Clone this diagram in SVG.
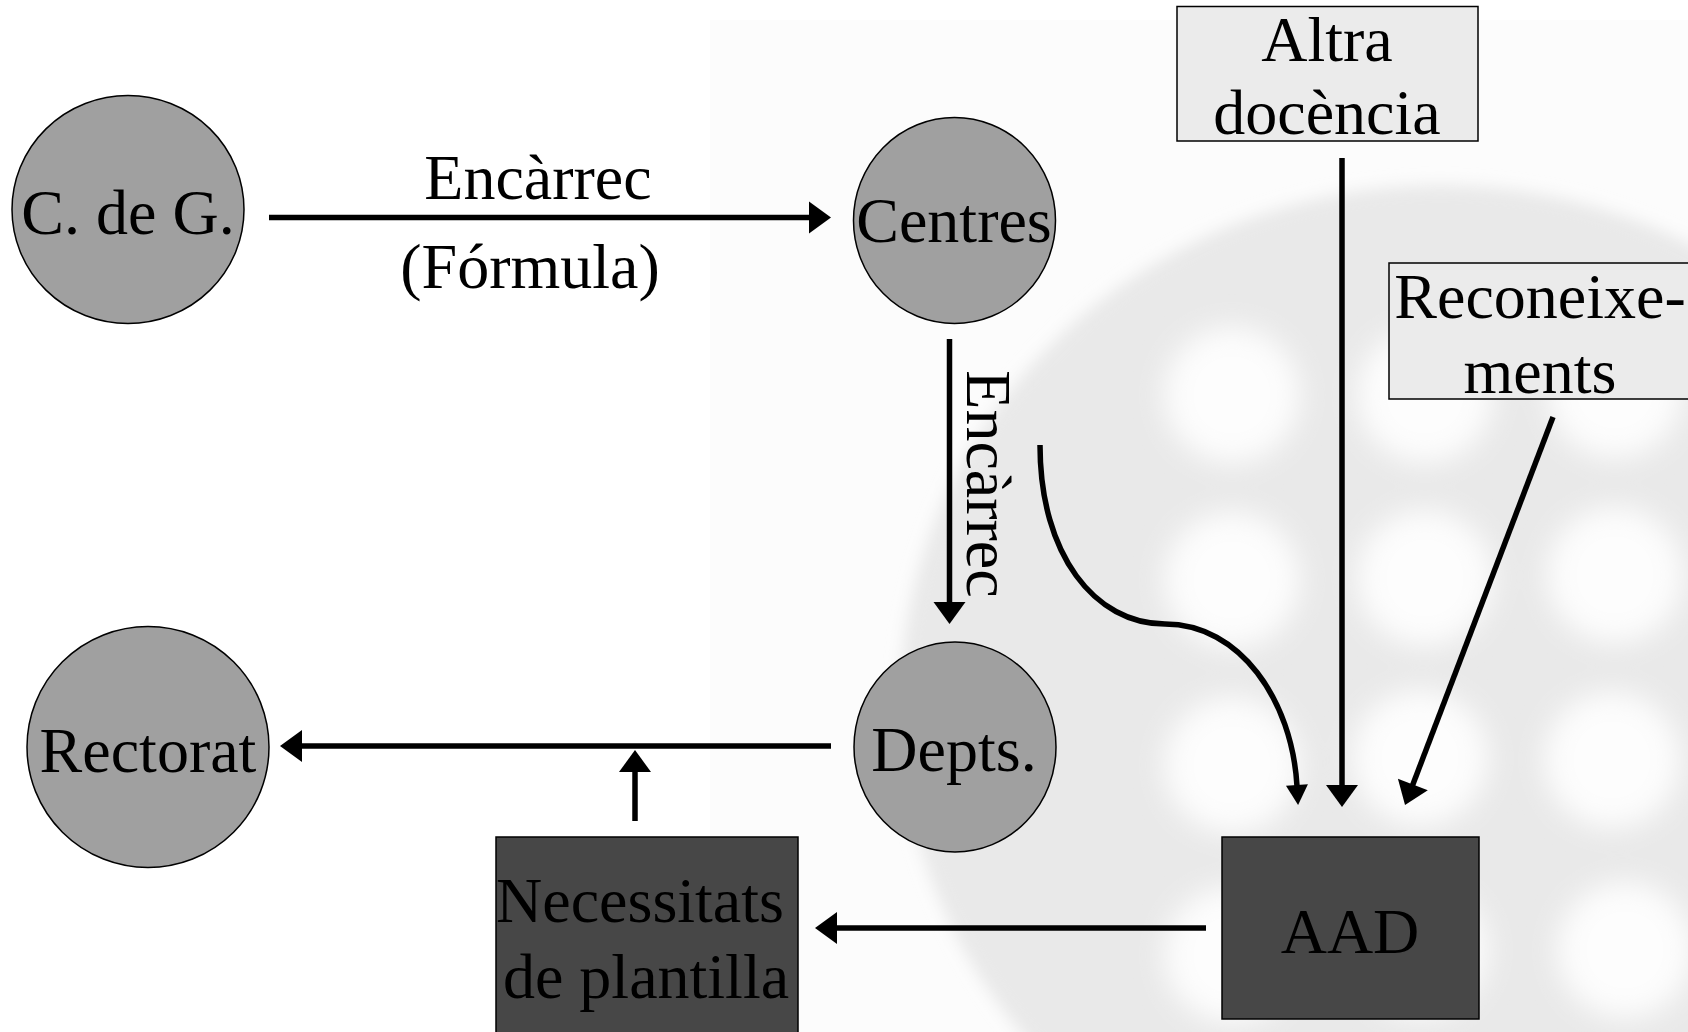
<svg xmlns="http://www.w3.org/2000/svg" width="1688" height="1032" viewBox="0 0 1688 1032">
<style>
.t{font-family:"Liberation Serif","Times New Roman",serif;font-size:64px;fill:#000;text-anchor:middle}
.c{fill:#a0a0a0;stroke:#000;stroke-width:1.5}
.lb{fill:#ebebeb;stroke:#000;stroke-width:1.5}
.db{fill:#474747;stroke:#000;stroke-width:1.5}
.ln{fill:none;stroke:#000;stroke-width:5.5}
</style>
<defs>
<marker id="arr" markerUnits="userSpaceOnUse" markerWidth="22" markerHeight="32" viewBox="0 0 22 32" refX="1" refY="16" orient="auto" overflow="visible">
<path d="M0,0 L22,16 L0,32 z" fill="#000"/>
</marker>
<marker id="arrs" markerUnits="userSpaceOnUse" markerWidth="20" markerHeight="22" viewBox="0 0 20 22" refX="1" refY="11" orient="auto" overflow="visible">
<path d="M0,0 L20,11 L0,22 z" fill="#000"/>
</marker>
<filter id="blurA" x="-20%" y="-20%" width="140%" height="140%"><feGaussianBlur stdDeviation="8"/></filter>
<filter id="blurB" x="-60%" y="-60%" width="220%" height="220%"><feGaussianBlur stdDeviation="14"/></filter>
</defs>
<g id="background">
<rect x="0" y="0" width="1688" height="1032" fill="#fff"/>
<rect x="710" y="20" width="978" height="1012" fill="#fcfcfc"/>
<ellipse cx="1440" cy="705" rx="540" ry="520" fill="#e9e9e9" filter="url(#blurA)"/>
<g fill="#fdfdfd" filter="url(#blurB)">
<circle cx="1232" cy="395" r="68"/>
<circle cx="1425" cy="395" r="68"/>
<circle cx="1615" cy="390" r="68"/>
<circle cx="1232" cy="580" r="68"/>
<circle cx="1425" cy="578" r="68"/>
<circle cx="1615" cy="575" r="68"/>
<circle cx="1232" cy="765" r="68"/>
<circle cx="1420" cy="758" r="68"/>
<circle cx="1612" cy="760" r="68"/>
<circle cx="1232" cy="955" r="68"/>
<circle cx="1420" cy="950" r="68"/>
<circle cx="1625" cy="950" r="68"/>
</g>
</g>
<g id="connectors">
<path class="ln" d="M269,217.5 H810" marker-end="url(#arr)"/>
<path class="ln" d="M949.5,339 V603" marker-end="url(#arr)"/>
<path class="ln" d="M831,746 H301" marker-end="url(#arr)"/>
<path class="ln" d="M635,821 V771" marker-end="url(#arr)"/>
<path class="ln" d="M1206,928 H836" marker-end="url(#arr)"/>
<path class="ln" d="M1342,158 V786" marker-end="url(#arr)"/>
<path class="ln" d="M1553,417 L1412.5,785.4" marker-end="url(#arr)"/>
<path class="ln" stroke-width="5" d="M1040,445 C1040,555 1095,624 1165,624 C1240,624 1292,700 1297,786" marker-end="url(#arrs)"/>
<text class="t" x="538" y="199">Encàrrec</text>
<text class="t" x="530" y="288">(Fórmula)</text>
<text class="t" transform="translate(967,484) rotate(90)">Encàrrec</text>
</g>
<g id="node-cdg">
<ellipse class="c" cx="128" cy="209.5" rx="116" ry="114"/>
<text class="t" x="128" y="234">C. de G.</text>
</g>
<g id="node-centres">
<ellipse class="c" cx="954.5" cy="220.5" rx="101" ry="103"/>
<text class="t" x="954" y="242">Centres</text>
</g>
<g id="node-depts">
<ellipse class="c" cx="955" cy="747" rx="101" ry="105"/>
<text class="t" x="954" y="771">Depts.</text>
</g>
<g id="node-rectorat">
<ellipse class="c" cx="148" cy="747" rx="121" ry="120.5"/>
<text class="t" x="148" y="772">Rectorat</text>
</g>
<g id="node-necessitats">
<rect class="db" x="496" y="837" width="302" height="210"/>
<text class="t" x="640" y="922">Necessitats</text>
<text class="t" x="646" y="998">de plantilla</text>
</g>
<g id="node-aad">
<rect class="db" x="1222" y="837" width="257" height="182"/>
<text class="t" x="1350" y="953">AAD</text>
</g>
<g id="node-altra">
<rect class="lb" x="1177" y="6.5" width="301" height="134.5"/>
<text class="t" x="1327" y="61">Altra</text>
<text class="t" x="1327" y="134">docència</text>
</g>
<g id="node-reconeixements">
<rect class="lb" x="1389" y="263" width="310" height="136"/>
<text class="t" x="1540" y="318">Reconeixe-</text>
<text class="t" x="1540" y="393">ments</text>
</g>
</svg>
